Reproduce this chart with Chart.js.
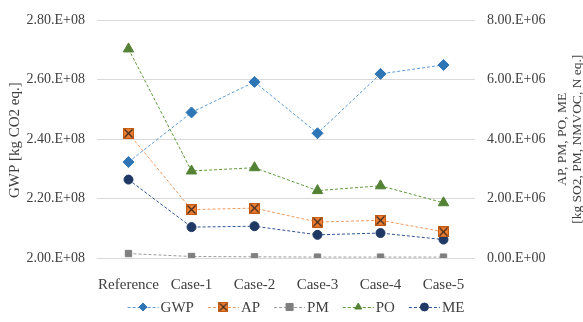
<!DOCTYPE html>
<html><head><meta charset="utf-8">
<script src="https://cdn.jsdelivr.net/npm/chart.js@4.4.0/dist/chart.umd.min.js"></script>
<style>html,body{margin:0;padding:0;background:#fff;}#wrap{width:583px;height:322px;}</style>
</head><body><div id="wrap"><canvas id="c" width="583" height="322"></canvas></div>
<script>
const categories = ["Reference","Case-1","Case-2","Case-3","Case-4","Case-5"];
const gwp = [2.323e8, 2.49e8, 2.593e8, 2.42e8, 2.62e8, 2.65e8];
const ap  = [4.2e6, 1.63e6, 1.68e6, 1.21e6, 1.27e6, 0.88e6];
const pm  = [0.15e6, 0.05e6, 0.04e6, 0.03e6, 0.03e6, 0.03e6];
const po  = [7.04e6, 2.93e6, 3.04e6, 2.27e6, 2.43e6, 1.86e6];
const me  = [2.64e6, 1.04e6, 1.07e6, 0.78e6, 0.84e6, 0.62e6];
const leftTicks = [2.0e8, 2.2e8, 2.4e8, 2.6e8, 2.8e8];
const rightTicks = [0, 2e6, 4e6, 6e6, 8e6];

const FONT = "'Liberation Serif', 'Times New Roman', serif";
function fmt(v){
  if (v === 0) return "0.00.E+00";
  const e = Math.floor(Math.log10(Math.abs(v)) + 1e-9);
  const m = v / Math.pow(10, e);
  return m.toFixed(2) + ".E+" + String(e).padStart(2, "0");
}
function apMarker(s){
  const c = document.createElement('canvas');
  c.width = s; c.height = s;
  const g = c.getContext('2d');
  g.fillStyle = '#ED7D31'; g.fillRect(0.5,0.5,s-1,s-1);
  g.strokeStyle = '#C55A11'; g.lineWidth = 1; g.strokeRect(0.5,0.5,s-1,s-1);
  g.strokeStyle = '#3a2a20'; g.lineWidth = 1.1;
  g.beginPath(); g.moveTo(1.5,1.5); g.lineTo(s-1.5,s-1.5); g.moveTo(s-1.5,1.5); g.lineTo(1.5,s-1.5); g.stroke();
  return c;
}
const apImg = apMarker(11);
const apImgLeg = apMarker(10);

const ds = [
  {label:"GWP", data:gwp, yAxisID:'y', borderColor:'#5B9BD5', pointBackgroundColor:'#2E75B6', pointBorderColor:'#2E75B6', pointStyle:'rectRot', pointRadius:5.5},
  {label:"AP", data:ap, yAxisID:'y1', borderColor:'#F19A5E', pointBackgroundColor:'#ED7D31', pointBorderColor:'#C55A11', pointStyle:apImg, pointRadius:5.5},
  {label:"PM", data:pm, yAxisID:'y1', borderColor:'#9A9A9A', pointBackgroundColor:'#7F7F7F', pointBorderColor:'#7F7F7F', pointStyle:'rect', pointRadius:4.5},
  {label:"PO", data:po, yAxisID:'y1', borderColor:'#5E9A3A', pointBackgroundColor:'#548235', pointBorderColor:'#548235', pointStyle:'triangle', pointRadius:6},
  {label:"ME", data:me, yAxisID:'y1', borderColor:'#2F5597', pointBackgroundColor:'#1F3864', pointBorderColor:'#1F3864', pointStyle:'circle', pointRadius:4.5}
].map(d => Object.assign({borderWidth:1, borderDash:[3,2], fill:false, tension:0, pointBorderWidth:1, pointHoverRadius:6}, d));

const titlesLegend = {
  id:'titlesLegend',
  afterDraw(chart){
    const ctx = chart.ctx, a = chart.chartArea;
    const cy = (a.top + a.bottom)/2;
    ctx.save();
    ctx.fillStyle = '#404040';
    ctx.textAlign = 'center'; ctx.textBaseline = 'middle';
    ctx.font = "15px " + FONT;
    ctx.save(); ctx.translate(15, cy + 1); ctx.rotate(-Math.PI/2);
    ctx.fillText("GWP [kg CO2 eq.]", 0, 0); ctx.restore();
    ctx.font = "13.5px " + FONT;
    ctx.save(); ctx.translate(562, cy); ctx.rotate(-Math.PI/2);
    ctx.fillText("AP, PM, PO, ME", 0, 0); ctx.restore();
    ctx.save(); ctx.translate(577, cy); ctx.rotate(-Math.PI/2);
    ctx.fillText("[kg SO2, PM, NMVOC, N eq.]", 0, 0); ctx.restore();
    // legend
    ctx.font = "15px " + FONT;
    const lineW = 31, gapT = 2, gapItem = 14, ly = 307;
    let total = 0;
    chart.data.datasets.forEach((d,i) => { total += lineW + gapT + ctx.measureText(d.label).width + (i ? gapItem : 0); });
    let x = 296 - total/2;
    chart.data.datasets.forEach((d,i) => {
      if (i) x += gapItem;
      ctx.save();
      ctx.strokeStyle = d.borderColor; ctx.lineWidth = 1; ctx.setLineDash([3,2]);
      ctx.beginPath(); ctx.moveTo(x, ly+0.5); ctx.lineTo(x+lineW, ly+0.5); ctx.stroke();
      ctx.restore();
      const ps = d.label === "AP" ? apImgLeg : d.pointStyle;
      const r = {GWP:4, AP:5, PM:5, PO:4, ME:4}[d.label];
      ctx.save();
      ctx.fillStyle = d.pointBackgroundColor; ctx.strokeStyle = d.pointBorderColor; ctx.lineWidth = 1;
      Chart.helpers.drawPoint(ctx, {pointStyle:ps, radius:r, rotation:0, borderWidth:1}, x + lineW/2, ly);
      ctx.restore();
      x += lineW + gapT;
      ctx.fillStyle = '#404040'; ctx.textAlign = 'left';
      ctx.fillText(d.label, x, ly+1);
      x += ctx.measureText(d.label).width;
    });
    ctx.restore();
  }
};

new Chart(document.getElementById('c'), {
  type:'line',
  data:{labels:categories, datasets:ds},
  options:{
    responsive:false, animation:false, devicePixelRatio:1,
    layout:{padding:{top:10, bottom:0, left:0, right:0}},
    plugins:{legend:{display:false}, tooltip:{enabled:false}},
    scales:{
      x:{
        offset:true,
        grid:{display:false}, border:{display:false},
        ticks:{color:'#404040', font:{family:FONT, size:15}, padding:10, maxRotation:0, autoSkip:false},
        afterFit(s){ s.height = 322 - 258; }
      },
      y:{
        position:'left', min:2.0e8, max:2.8e8,
        afterBuildTicks(s){ s.ticks = leftTicks.map(v => ({value:v})); },
        grid:{color:'#D9D9D9', lineWidth:1, drawTicks:false}, border:{display:false},
        ticks:{color:'#404040', font:{family:FONT, size:14}, padding:12, callback:v => fmt(v)},
        afterFit(s){ s.width = 97; }
      },
      y1:{
        position:'right', min:0, max:8e6,
        afterBuildTicks(s){ s.ticks = rightTicks.map(v => ({value:v})); },
        grid:{display:false, drawTicks:false}, border:{display:false},
        ticks:{color:'#404040', font:{family:FONT, size:14}, padding:12, callback:v => fmt(v)},
        afterFit(s){ s.width = 108; }
      }
    }
  },
  plugins:[titlesLegend]
});
</script></body></html>
